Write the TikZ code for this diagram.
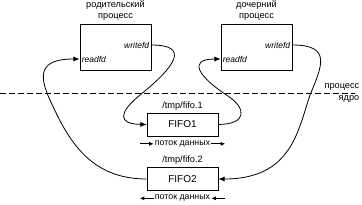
\documentclass[tikz,border=0pt]{standalone}
\usepackage{fontspec}
\setmainfont{Liberation Sans}
\usetikzlibrary{arrows.meta,positioning}

\begin{document}
\begin{tikzpicture}[
    x=1pt,y=-1pt,
    font=\fontsize{9.2}{10.5}\selectfont,
    proc/.style={rectangle,draw,thick,minimum width=71pt,minimum height=46pt,inner sep=0pt},
    fifo/.style={rectangle,draw,thick,minimum width=71pt,minimum height=23pt,
      font=\fontsize{10}{12}\selectfont},
    fd/.style={font=\fontsize{8.5}{10}\itshape,inner sep=2pt},
    lbl/.style={align=center,inner sep=0pt},
    flow/.style={font=\fontsize{8.8}{10}\selectfont,inner sep=1pt},
    arrow/.style={-{Latex[length=2.2mm,width=1.8mm]},thick},
    flowarrow/.style={-{Latex[length=1.6mm,width=1.4mm]},thick},
    border/.style={dash pattern=on 6pt off 3pt,thick}
  ]
    \useasboundingbox (0,0) rectangle (362,204);

    % processes
    \node[proc] (parent) at (115.5,47) {};
    \node[lbl,above=3pt of parent] (ptitle) {родительский\\процесс};
    \node[fd,anchor=east] (pw) at ([yshift=2pt]parent.east) {writefd};
    \node[fd,anchor=west] (pr) at ([yshift=-12pt]parent.west) {readfd};
    \node[proc] (child) at (256.5,47) {};
    \node[lbl,above=3pt of child] (ctitle) {дочерний\\процесс};
    \node[fd,anchor=east] (cw) at ([yshift=2pt]child.east) {writefd};
    \node[fd,anchor=west] (cr) at ([yshift=-12pt]child.west) {readfd};

    % user / kernel boundary
    \coordinate (bl) at (0,93);
    \coordinate (br) at (355,93);
    \draw[border] (bl) -- (br);
    \node[anchor=south east,inner sep=2.5pt] (user) at (362,93) {процесс};
    \node[anchor=north east,inner sep=2.5pt] (kern) at (362,93) {ядро};

    % fifos
    \node[fifo] (fifo1) at (182.5,124.5) {FIFO1};
    \node[lbl,above=2pt of fifo1] (name1) {/tmp/fifo.1};
    \node[flow,below=3pt of fifo1] (flow1) {поток данных};
    \node[fifo] (fifo2) at (182.5,179) {FIFO2};
    \node[lbl,above=2pt of fifo2] (name2) {/tmp/fifo.2};
    \node[flow,below=3pt of fifo2] (flow2) {поток данных};

    \draw[flowarrow] ([xshift=-14pt]flow1.west) -- (flow1.west);
    \draw[flowarrow] (flow1.east) -- ([xshift=14pt]flow1.east);
    \draw[flowarrow] (flow2.west) -- ([xshift=-14pt]flow2.west);
    \draw[flowarrow] ([xshift=14pt]flow2.east) -- (flow2.east);

    % descriptors to fifos
    \draw[arrow] (pw.east) .. controls (190,45) and (176,66) .. (140,95)
      .. controls (118,113) and (118,124) .. (fifo1.west);
    \draw[arrow] (fifo1.east) .. controls (248,124) and (246,108) .. (228,96)
      .. controls (200,78) and (186,59) .. (cr.west);
    \draw[arrow] (cw.east) .. controls (332,45) and (322,66) .. (310,95)
      .. controls (298,130) and (292,179) .. (fifo2.east);
    \draw[arrow] (fifo2.west) .. controls (90,179) and (68,140) .. (50,100)
      .. controls (38,74) and (40,59) .. (pr.west);
  \end{tikzpicture}
\end{document}
